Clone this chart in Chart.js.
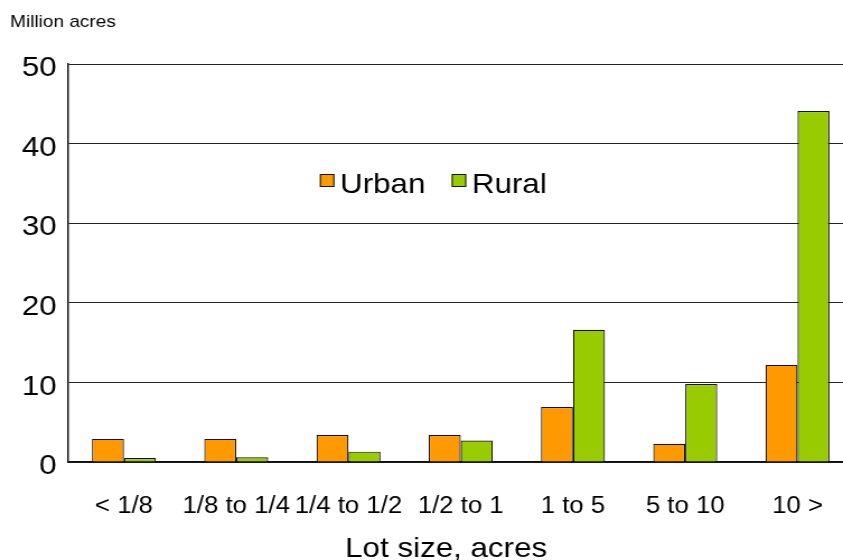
<!DOCTYPE html>
<html>
<head>
<meta charset="utf-8">
<script src="https://cdn.jsdelivr.net/npm/chart.js@4/dist/chart.umd.min.js"></script>
<style>
  html, body { margin: 0; padding: 0; background: #fff; overflow: hidden; }
</style>
</head>
<body>
<!-- canvas is drawn at 770px and displayed slightly wider -->
<canvas id="lots" width="770" height="560" style="display:block;width:862.4px;height:560px;"></canvas>
<script>
const lotSizes = ['< 1/8', '1/8 to 1/4', '1/4 to 1/2', '1/2 to 1', '1 to 5', '5 to 10', '10 >'];
const urbanAcres = [2.9, 2.9, 3.4, 3.4, 6.9, 2.3, 12.2];
const ruralAcres = [0.5, 0.6, 1.3, 2.7, 16.6, 9.8, 44.1];
const yTicks = [0, 10, 20, 30, 40, 50];

const FONT = "'Liberation Sans', Arial, Helvetica, sans-serif";
Chart.defaults.font.family = FONT;
Chart.defaults.color = '#000';

// Unit caption, x-axis caption and in-plot legend
const decorations = {
  id: 'decorations',
  afterDraw(chart, args, opts) {
    const ctx = chart.ctx;
    ctx.save();
    ctx.fillStyle = '#000';
    ctx.textBaseline = 'alphabetic';

    ctx.font = '17px ' + FONT;
    ctx.textAlign = 'left';
    ctx.fillText(opts.unit, 9, 27.3);

    ctx.font = '28px ' + FONT;
    ctx.textAlign = 'center';
    ctx.fillText(opts.xTitle, opts.xTitleX, 556.5);

    ctx.textAlign = 'left';
    let x = opts.legendX;
    chart.data.datasets.forEach(ds => {
      ctx.fillStyle = ds.backgroundColor;
      ctx.fillRect(x, opts.legendY, opts.box, opts.box);
      ctx.strokeStyle = '#111';
      ctx.lineWidth = 1;
      ctx.strokeRect(x + 0.5, opts.legendY + 0.5, opts.box - 1, opts.box - 1);
      x += opts.box + opts.gap;
      ctx.fillStyle = '#000';
      ctx.fillText(ds.label, x, opts.legendY + 19.3);
      x += ctx.measureText(ds.label).width + opts.spacing;
    });
    ctx.restore();
  }
};

new Chart(document.getElementById('lots'), {
  type: 'bar',
  data: {
    labels: lotSizes,
    datasets: [
      { label: 'Urban', data: urbanAcres, backgroundColor: '#FF9900', borderColor: '#111', borderWidth: 1.2 },
      { label: 'Rural', data: ruralAcres, backgroundColor: '#99CC00', borderColor: '#111', borderWidth: 1.2 }
    ]
  },
  options: {
    responsive: false,
    animation: false,
    devicePixelRatio: 1,
    layout: { padding: { top: 64, right: 7.5, bottom: 0, left: 0 } },
    datasets: { bar: { categoryPercentage: 0.57, barPercentage: 1.0 } },
    plugins: {
      legend: { display: false },
      tooltip: { enabled: false },
      decorations: {
        unit: 'Million acres',
        xTitle: 'Lot size, acres', xTitleX: 398.5,
        legendX: 285.7, legendY: 174, box: 13, gap: 5, spacing: 23.5
      }
    },
    scales: {
      x: {
        grid: { display: false, drawTicks: false },
        border: { display: true, color: '#111', width: 1.5 },
        ticks: { font: { size: 23 }, padding: 31, maxRotation: 0, autoSkip: false },
        afterFit(scale) { scale.height = 98; }
      },
      y: {
        min: 0,
        max: 50,
        afterBuildTicks(scale) { scale.ticks = yTicks.map(v => ({ value: v })); },
        grid: { color: '#222', lineWidth: 1, drawTicks: false },
        border: { display: true, color: '#111', width: 1.5 },
        ticks: { font: { size: 28 }, padding: 10, labelOffset: 4.5 },
        afterFit(scale) { scale.width = 60.6; }
      }
    }
  },
  plugins: [decorations]
});
</script>
</body>
</html>
